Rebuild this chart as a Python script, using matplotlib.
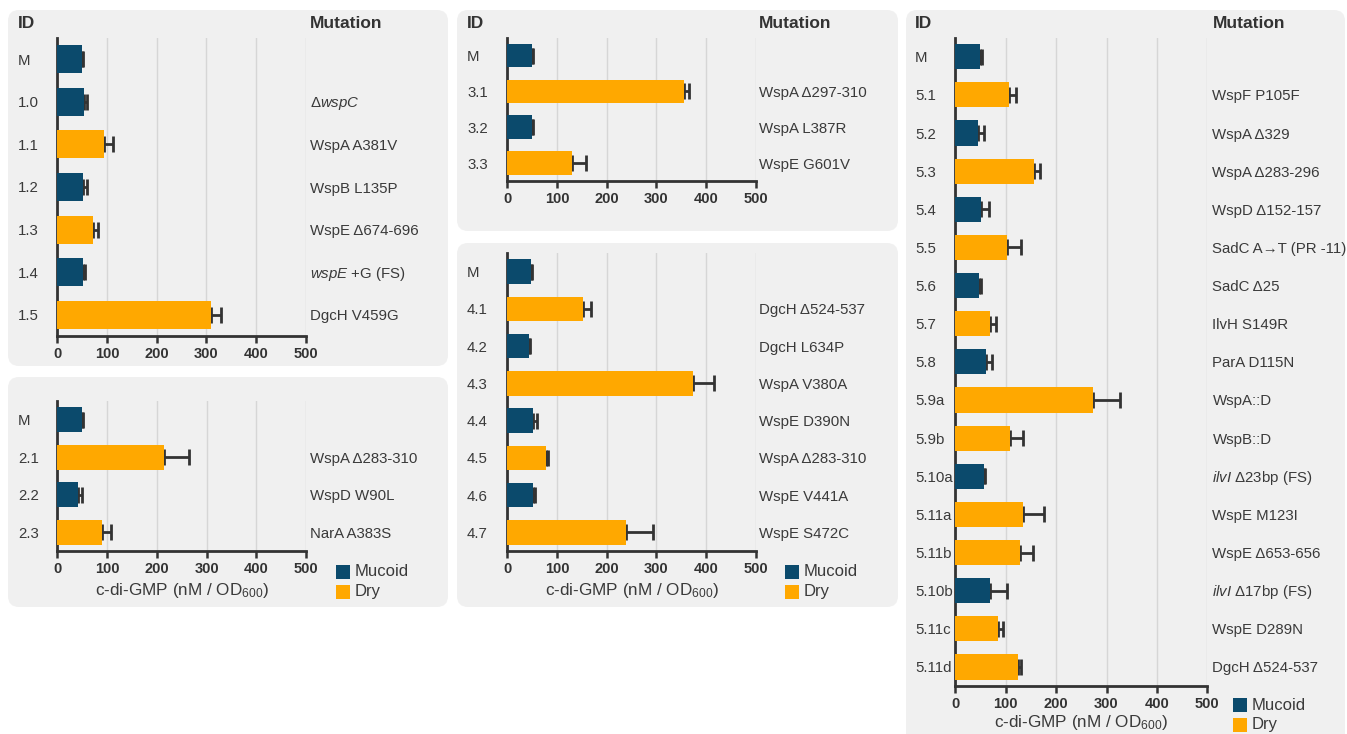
import matplotlib
matplotlib.use("Agg")
import matplotlib.pyplot as plt
from matplotlib.patches import FancyBboxPatch, Rectangle
from matplotlib.transforms import blended_transform_factory, offset_copy
import numpy as np

# ---------------- data ----------------
ids_1 = ["M", "1.0", "1.1", "1.2", "1.3", "1.4", "1.5"]
mut_1 = ["", "Δ$\\mathit{wspC}$", "WspA A381V", "WspB L135P", "WspE Δ674-696",
         "$\\mathit{wspE}$ +G (FS)", "DgcH V459G"]
val_1 = [49, 54, 95, 52, 71, 51, 309]
err_1 = [3, 5, 18, 7, 10, 5, 20]
kind_1 = ["M", "M", "D", "M", "D", "M", "D"]

ids_2 = ["M", "2.1", "2.2", "2.3"]
mut_2 = ["", "WspA Δ283-310", "WspD W90L", "NarA A383S"]
val_2 = [49, 214, 42, 89]
err_2 = [3, 51, 7, 19]
kind_2 = ["M", "D", "M", "D"]

ids_3 = ["M", "3.1", "3.2", "3.3"]
mut_3 = ["", "WspA Δ297-310", "WspA L387R", "WspE G601V"]
val_3 = [49, 356, 50, 131]
err_3 = [3, 9, 2, 27]
kind_3 = ["M", "D", "M", "D"]

ids_4 = ["M", "4.1", "4.2", "4.3", "4.4", "4.5", "4.6", "4.7"]
mut_4 = ["", "DgcH Δ524-537", "DgcH L634P", "WspA V380A", "WspE D390N",
         "WspA Δ283-310", "WspE V441A", "WspE S472C"]
val_4 = [48, 153, 43, 373, 52, 77, 52, 238]
err_4 = [2, 15, 3, 43, 7, 4, 4, 55]
kind_4 = ["M", "D", "M", "D", "M", "D", "M", "D"]

ids_5 = ["M", "5.1", "5.2", "5.3", "5.4", "5.5", "5.6", "5.7", "5.8", "5.9a",
         "5.9b", "5.10a", "5.11a", "5.11b", "5.10b", "5.11c", "5.11d"]
mut_5 = ["", "WspF P105F", "WspA Δ329", "WspA Δ283-296", "WspD Δ152-157",
         "SadC A→T (PR -11)", "SadC Δ25", "IlvH S149R", "ParA D115N", "WspA::D",
         "WspB::D", "$\\mathit{ilvI}$ Δ23bp (FS)", "WspE M123I", "WspE Δ653-656",
         "$\\mathit{ilvI}$ Δ17bp (FS)", "WspE D289N", "DgcH Δ524-537"]
val_5 = [49, 107, 45, 157, 50, 102, 48, 69, 60, 274, 108, 56, 134, 128, 69, 84, 125]
err_5 = [3, 13, 12, 12, 17, 28, 3, 11, 12, 53, 26, 2, 42, 27, 33, 11, 6]
kind_5 = ["M", "D", "M", "D", "M", "D", "M", "D", "M", "D", "D", "M", "D", "D",
          "M", "D", "D"]

x_ticks = [0, 100, 200, 300, 400, 500]
legend_labels = ["Mucoid", "Dry"]
x_label = "c-di-GMP (nM / OD$_{600}$)"

# ---------------- style ----------------
MUCOID = "#0b4a6c"
DRY = "#ffa800"
PANEL = "#f0f0f0"
DARK = "#333333"
TEXT = "#3a3a3a"
GRID = "#d6d6d6"

plt.rcParams.update({
    "font.family": ["Liberation Sans", "DejaVu Sans"],
    "mathtext.fontset": "custom",
    "mathtext.rm": "Liberation Sans",
    "mathtext.it": "Liberation Sans:italic",
    "mathtext.bf": "Liberation Sans:bold",
    "mathtext.default": "regular",
})

W, H = 1347, 734
fig = plt.figure(figsize=(W / 100, H / 100), dpi=100)
bg = fig.add_axes([0, 0, 1, 1], zorder=0)
bg.set_xlim(0, W)
bg.set_ylim(H, 0)
bg.axis("off")

ROW_FS = 10.8


def px_axes(x0, y0, x1, y1):
    return fig.add_axes([x0 / W, 1 - y1 / H, (x1 - x0) / W, (y1 - y0) / H], zorder=1)


def draw_panel(ids, muts, vals, errs, kinds, box, ax_rect, id_x, mut_x,
               header=False, legend_xy=None, label_y=None):
    x0, y0, x1, y1 = box
    bg.add_patch(FancyBboxPatch((x0, y0), x1 - x0, y1 - y0,
                                boxstyle="round,pad=0,rounding_size=11",
                                fc=PANEL, ec="none"))
    ax = px_axes(*ax_rect)
    ax.set_facecolor("none")
    n = len(vals)
    y = np.arange(n)
    colors = [MUCOID if k == "M" else DRY for k in kinds]
    ax.errorbar(vals, y, xerr=[np.zeros(n), errs], fmt="none", ecolor=DARK,
                elinewidth=2.0, capsize=5.5, capthick=2.0, zorder=2)
    ax.barh(y, vals, height=0.66, color=colors, zorder=3)
    ax.set_xlim(0, 500)
    ax.set_ylim(n - 0.5, -0.5)
    ax.set_yticks([])
    ax.set_xticks(x_ticks)
    ax.set_xticklabels([str(t) for t in x_ticks], fontsize=10.5,
                       fontweight="bold", color=DARK)
    ax.tick_params(axis="x", direction="out", length=5, width=1.8,
                   color=DARK, pad=3)
    ax.xaxis.grid(True, color=GRID, linewidth=1.0, zorder=0)
    ax.set_axisbelow(True)
    for s in ("top", "right"):
        ax.spines[s].set_visible(False)
    for s in ("left", "bottom"):
        ax.spines[s].set_color(DARK)
        ax.spines[s].set_linewidth(2.0)

    # row labels: x in page pixels, y on the bar axis, nudged slightly down
    tr = offset_copy(blended_transform_factory(bg.transData, ax.transData),
                     fig=fig, x=0, y=-1.5, units="dots")
    for i, (lab, mut) in enumerate(zip(ids, muts)):
        ax.text(id_x, i, lab, transform=tr, ha="left", va="center",
                fontsize=ROW_FS, color=TEXT)
        if mut:
            ax.text(mut_x, i, mut, transform=tr, ha="left", va="center",
                    fontsize=ROW_FS, color=TEXT)

    if header:
        bg.text(id_x, 23, "ID", ha="left", va="center", fontsize=12.5,
                fontweight="bold", color=DARK)
        bg.text(mut_x, 23, "Mutation", ha="left", va="center", fontsize=12.5,
                fontweight="bold", color=DARK)

    if label_y is not None:
        cx = (ax_rect[0] + ax_rect[2]) / 2
        bg.text(cx, label_y, x_label, ha="center", va="center",
                fontsize=12.3, color=TEXT)

    if legend_xy is not None:
        lx, ly = legend_xy
        for j, (lab, col) in enumerate(zip(legend_labels, [MUCOID, DRY])):
            yy = ly + j * 19.5
            bg.add_patch(Rectangle((lx, yy - 7), 14, 14, fc=col, ec="none"))
            bg.text(lx + 19, yy, lab, ha="left", va="center", fontsize=12,
                    color=TEXT)
    return ax


draw_panel(ids_1, mut_1, val_1, err_1, kind_1,
           box=(8, 10, 448, 366), ax_rect=(57.3, 38, 305.7, 336),
           id_x=18, mut_x=310, header=True)
draw_panel(ids_2, mut_2, val_2, err_2, kind_2,
           box=(8, 377, 448, 607), ax_rect=(57.3, 401, 306.2, 551),
           id_x=18, mut_x=310, legend_xy=(336, 572), label_y=590)
draw_panel(ids_3, mut_3, val_3, err_3, kind_3,
           box=(457, 10, 898, 231), ax_rect=(507.3, 37.7, 755.7, 181),
           id_x=467, mut_x=759, header=True)
draw_panel(ids_4, mut_4, val_4, err_4, kind_4,
           box=(457, 243, 898, 607), ax_rect=(507.3, 253, 755.7, 551),
           id_x=467, mut_x=759, legend_xy=(785, 572), label_y=590)
draw_panel(ids_5, mut_5, val_5, err_5, kind_5,
           box=(906, 10, 1345, 760), ax_rect=(955.3, 37.7, 1207.3, 686),
           id_x=915, mut_x=1212.5, header=True, legend_xy=(1233, 705),
           label_y=723)

fig.savefig("out.png", dpi=100, facecolor="white")
